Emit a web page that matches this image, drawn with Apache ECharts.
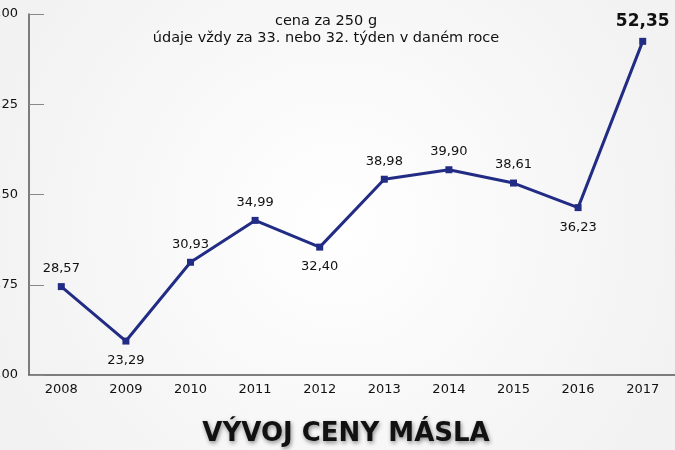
<!DOCTYPE html>
<html><head><meta charset="utf-8">
<script src="https://cdn.jsdelivr.net/npm/echarts@6/dist/echarts.min.js"></script>
<style>html,body{margin:0;padding:0;background:#fafafa}#c{width:675px;height:450px}</style>
</head><body><div id="c"></div>
<script>
const years = ['2008','2009','2010','2011','2012','2013','2014','2015','2016','2017'];
const prices = [28.57, 23.29, 30.93, 34.99, 32.40, 38.98, 39.90, 38.61, 36.23, 52.35];
const labelBelow = [false, true, false, false, true, false, false, false, true, false];
const yTicks = [20, 28.75, 37.5, 46.25, 55];

const FONT = 'DejaVu Sans';
const chart = echarts.init(document.getElementById('c'));
const fmt = v => v.toFixed(2).replace('.', ',');
const data = prices.map((v, i) => {
  const last = i === prices.length - 1;
  return {
    value: v,
    label: {
      position: labelBelow[i] ? 'bottom' : 'top',
      distance: labelBelow[i] ? 10 : 8,
      fontSize: last ? 17 : 13,
      fontWeight: last ? 'bold' : 'normal',
      color: '#111'
    }
  };
});
chart.setOption({
  backgroundColor: {
    type: 'radial', x: 0.5, y: 0.5, r: 0.8,
    colorStops: [{offset: 0, color: '#ffffff'}, {offset: 1, color: '#f2f2f2'}]
  },
  textStyle: {fontFamily: FONT},
  title: [
    {text: 'cena za 250 g\núdaje vždy za 33. nebo 32. týden v daném roce', left: 321, top: 8, textAlign: 'center',
     textStyle: {fontSize: 14.5, fontWeight: 'normal', color: '#111', lineHeight: 17, fontFamily: FONT}},
    {text: 'VÝVOJ CENY MÁSLA', left: 341, top: 416, textAlign: 'center',
     textStyle: {fontSize: 26, fontWeight: 'bold', color: '#111', fontFamily: FONT,
       textShadowColor: 'rgba(0,0,0,0.45)', textShadowBlur: 4, textShadowOffsetX: 1, textShadowOffsetY: 2}}
  ],
  grid: {left: 29, right: 0, top: 14, bottom: 75, containLabel: false, outerBoundsMode: 'none'},
  xAxis: {
    type: 'category', data: years, boundaryGap: true,
    axisLine: {lineStyle: {color: '#555', width: 1.5}},
    axisTick: {inside: true, length: 10, lineStyle: {color: '#555', width: 1.2}},
    axisLabel: {color: '#111', fontSize: 13, margin: 8}
  },
  yAxis: {
    type: 'value', min: yTicks[0], max: yTicks[yTicks.length - 1], interval: yTicks[1] - yTicks[0],
    axisLine: {show: true, lineStyle: {color: '#555', width: 1.5}},
    axisTick: {show: true, inside: true, length: 15, lineStyle: {color: '#888'}},
    splitLine: {show: false},
    axisLabel: {color: '#111', fontSize: 13, margin: 11, formatter: v => fmt(v)}
  },
  series: [{
    type: 'line', data: data,
    symbol: 'rect', symbolSize: 7,
    lineStyle: {color: '#232c85', width: 3},
    itemStyle: {color: '#232c85'},
    label: {show: true, formatter: p => fmt(p.value), fontFamily: FONT},
    animation: false
  }]
});
</script></body></html>
